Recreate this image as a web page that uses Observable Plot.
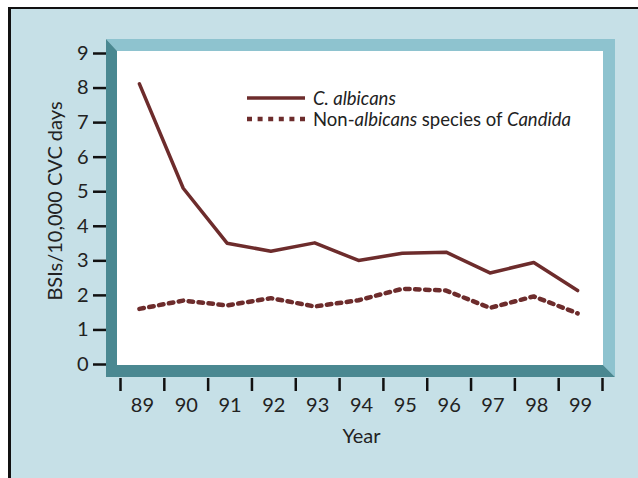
<!DOCTYPE html>
<html><head><meta charset="utf-8">
<script src="https://cdn.jsdelivr.net/npm/d3@7"></script>
<script src="https://cdn.jsdelivr.net/npm/@observablehq/plot@0.6"></script>
<style>
html,body{margin:0;padding:0;background:#fff;}
#wrap{position:relative;width:638px;height:478px;overflow:hidden;font-family:Lato,"Open Sans",sans-serif;}
#bg{position:absolute;left:8px;top:7px;right:-10px;bottom:-10px;background:#c6e0e7;border-top:2.5px solid #111;border-left:3px solid #111;}
#chart{position:absolute;left:0;top:0;}
.legend{position:absolute;left:247px;top:87px;font-size:18.5px;color:#222;}
.legend .row{display:flex;align-items:center;height:21px;white-space:nowrap;}
.legend svg{width:58px;height:6px;margin-right:8px;flex:none;}
</style></head>
<body>
<div id="wrap"><div id="bg"></div><div id="chart"></div>
<div class="legend" id="legend"></div></div>
<script>
const years = [89, 90, 91, 92, 93, 94, 95, 96, 97, 98, 99];
const albicans = [8.12, 5.10, 3.51, 3.28, 3.52, 3.01, 3.22, 3.25, 2.65, 2.95, 2.14];
const nonAlbicans = [1.61, 1.85, 1.71, 1.92, 1.68, 1.86, 2.19, 2.14, 1.64, 1.97, 1.48];
const yTicks = [0, 1, 2, 3, 4, 5, 6, 7, 8, 9];
const xBoundaries = [88.5, 89.5, 90.5, 91.5, 92.5, 93.5, 94.5, 95.5, 96.5, 97.5, 98.5, 99.5];
const seriesLabels = ["<i>C. albicans</i>", "Non-<i>albicans</i> species of <i>Candida</i>"];
const yLabel = "BSIs/10,000 CVC days";
const xLabel = "Year";

const lineColor = "#6d2c2c";
const rowsA = years.map((year, i) => ({year, value: albicans[i]}));
const rowsB = years.map((year, i) => ({year, value: nonAlbicans[i]}));

const plot = Plot.plot({
  width: 638, height: 478,
  marginLeft: 120, marginRight: 36, marginTop: 53, marginBottom: 114,
  style: {background: "transparent", fontFamily: "Lato, 'Open Sans', sans-serif", color: "#222", overflow: "visible"},
  x: {domain: [88.5, 99.5]},
  y: {domain: [0, 9]},
  marks: [
    Plot.axisY({ticks: yTicks, tickSize: 13, dx: -14, tickPadding: 5, strokeWidth: 2.5, stroke: "#111", fill: "#222", fontSize: 20, label: null}),
    Plot.axisX({ticks: xBoundaries, tickFormat: () => "", tickSize: 13, dy: 14, strokeWidth: 2.5, stroke: "#111", label: null}),
    Plot.axisX({ticks: years, tickSize: 0, tickPadding: 33, fontSize: 20, fill: "#222", label: null}),
    Plot.text([xLabel], {text: d => d, frameAnchor: "bottom", dy: 78, fontSize: 20, fill: "#222"}),
    Plot.text([yLabel], {text: d => d, frameAnchor: "left", textAnchor: "middle", rotate: -90, dx: -65, dy: -8, fontSize: 20, fill: "#222"}),
    Plot.line(rowsB, {x: "year", y: "value", stroke: lineColor, strokeWidth: 4.5, strokeDasharray: "4.5,5.5", dx: -3}),
    Plot.line(rowsA, {x: "year", y: "value", stroke: lineColor, strokeWidth: 3.5, dx: -3})
  ]
});

// bevelled frame around the plotting area, derived from the scales
const xs = plot.scale("x"), ys = plot.scale("y");
const L = xs.apply(88.5) - 3, R = xs.apply(99.5) + 1, T = ys.apply(9) - 2, B = ys.apply(0) + 1;
const oL = L - 11, oR = R + 12, oT = T - 12, oB = B + 12;
const svg = d3.select(plot);
const g = svg.insert("g", ":first-child");
g.append("polygon").attr("points", [[oL,oT],[oR,oT],[oR,oB],[R,B],[R,T],[L,T]].join(" ")).attr("fill", "#8ec3cf");
g.append("polygon").attr("points", [[oL,oT],[L,T],[L,B],[R,B],[oR,oB],[oL,oB]].join(" ")).attr("fill", "#4a8891");
g.append("rect").attr("x", L).attr("y", T).attr("width", R - L).attr("height", B - T).attr("fill", "#fff");

document.getElementById("chart").appendChild(plot);

const legend = document.getElementById("legend");
seriesLabels.forEach((lab, i) => {
  const row = document.createElement("div");
  row.className = "row";
  const dash = i === 0 ? "" : 'stroke-dasharray="5,5.6"';
  row.innerHTML = `<svg viewBox="0 0 58 6"><line x1="0" x2="58" y1="3" y2="3" stroke="${lineColor}" stroke-width="${i === 0 ? 3.5 : 4.5}" ${dash}/></svg><span>${lab}</span>`;
  legend.appendChild(row);
});
</script>
</body></html>
